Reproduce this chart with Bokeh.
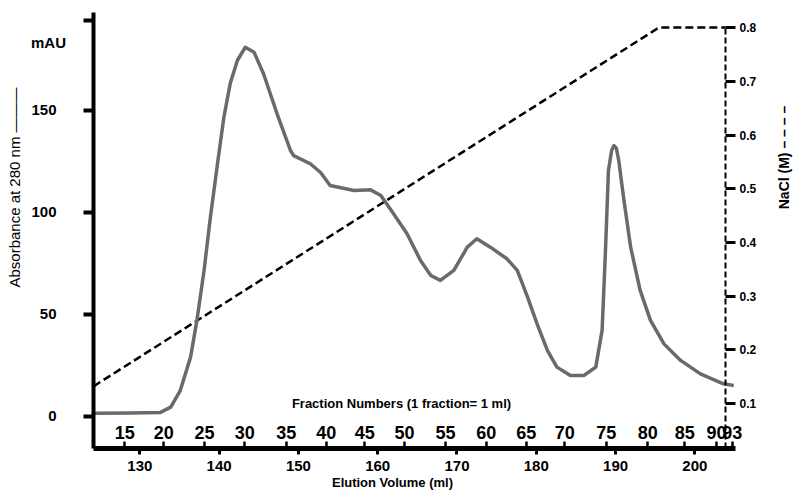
import math
from bokeh.plotting import figure
from bokeh.models import Range1d, LinearAxis, FixedTicker, Label
from bokeh.embed import file_html
from bokeh.resources import INLINE

# ---- data ----
elution_ml = [124.2, 128.8, 132.6, 133.9, 135.1, 136.4, 137.2, 138.1, 138.9, 139.8,
              140.6, 141.4, 142.3, 143.3, 144.4, 145.6, 147.3, 149.0, 149.4, 151.5,
              152.8, 154.0, 157.0, 159.1, 160.4, 162.0, 163.7, 165.4, 166.7, 167.9,
              169.6, 171.3, 172.5, 174.2, 176.3, 177.6, 178.9, 180.1, 181.4, 182.6,
              184.3, 186.0, 187.5, 188.3, 188.7, 189.1, 189.5, 189.8, 190.1, 190.4,
              191.0, 191.9, 193.1, 194.4, 196.1, 198.2, 200.7, 203.6, 204.9]
absorbance_mau = [1.6, 1.7, 2.0, 4.6, 12.7, 29.1, 47.1, 71.6, 97.7, 124.0,
                  146.7, 163.2, 174.5, 181.0, 178.6, 168.0, 148.5, 130.4, 127.9, 123.9,
                  119.6, 113.2, 110.8, 111.1, 108.3, 99.4, 89.6, 76.5, 69.1, 66.7,
                  71.6, 83.0, 87.1, 83.0, 77.3, 71.6, 58.5, 45.4, 32.4, 24.2,
                  20.1, 20.1, 24.2, 42.2, 78.9, 120.6, 130.4, 132.8, 131.4, 125.5,
                  107.5, 83.0, 61.8, 47.1, 35.6, 27.5, 20.9, 16.0, 15.2]

nacl_ml = [124.16, 195.45, 203.86]
nacl_m = [0.132, 0.8, 0.8]

volume_ticks = [130, 140, 150, 160, 170, 180, 190, 200]
absorbance_ticks = [0, 50, 100, 150, 194]
absorbance_tick_labels = ["0", "50", "100", "150", ""]
nacl_ticks = [0.1, 0.2, 0.3, 0.4, 0.5, 0.6, 0.7, 0.8]
fraction_labels = ["15", "20", "25", "30", "35", "40", "45", "50", "55", "60",
                   "65", "70", "75", "80", "85", "90", "93"]
fraction_ml = [128.11, 133.03, 138.16, 143.24, 148.46, 153.51, 158.37, 163.38,
               168.55, 173.68, 178.73, 183.59, 188.81, 194.06, 198.73, 202.72, 204.70]

FONT = "Liberation Sans"
# axis extents (data units)
VOL_MIN, VOL_MAX = 124.16, 205.11
ABS_MIN, ABS_MAX = -15.7, 198.0
NACL_MIN, NACL_MAX = 0.0162, 0.8
RIGHT_AXIS_AT = 203.86

W, H = 800, 498
p = figure(width=W, height=H, output_backend="svg", toolbar_location=None,
           x_range=Range1d(112.43, 213.32), y_range=Range1d(-40.2, 203.92),
           x_axis_location=None, y_axis_location=None,
           min_border_left=0, min_border_right=0, min_border_top=0, min_border_bottom=0)
p.xgrid.visible = False
p.ygrid.visible = False
p.outline_line_color = None
p.background_fill_color = "white"
p.border_fill_color = "white"

p.extra_y_ranges = {"nacl": Range1d(-0.0769, 0.8505)}

common = dict(minor_tick_in=0, minor_tick_out=0,
              major_label_text_font=FONT, major_label_text_font_style="bold",
              major_label_text_color="black")

# elution volume axis (bottom)
xa = LinearAxis(ticker=FixedTicker(ticks=volume_ticks), fixed_location=ABS_MIN,
                bounds=(VOL_MIN, VOL_MAX), axis_line_width=5,
                major_tick_out=6, major_tick_in=0, major_tick_line_width=3,
                major_label_standoff=6, major_label_text_font_size="15px", **common)
p.add_layout(xa, "below")

# fraction numbers on the same line, labels above it
fa = LinearAxis(ticker=FixedTicker(ticks=fraction_ml),
                major_label_overrides=dict(zip(fraction_ml, fraction_labels)),
                fixed_location=ABS_MIN, axis_line_color=None,
                major_tick_in=7, major_tick_out=0, major_tick_line_width=2.5,
                major_label_standoff=-23, major_label_text_font_size="18px", **common)
p.add_layout(fa, "below")

# absorbance axis (left)
ya = LinearAxis(ticker=FixedTicker(ticks=absorbance_ticks),
                major_label_overrides=dict(zip(absorbance_ticks, absorbance_tick_labels)),
                fixed_location=VOL_MIN, bounds=(ABS_MIN, ABS_MAX), axis_line_width=4,
                major_tick_out=10, major_tick_in=0, major_tick_line_width=4,
                major_label_standoff=27, major_label_text_font_size="15px", **common)
p.add_layout(ya, "left")

# NaCl axis (right, dashed)
ra = LinearAxis(y_range_name="nacl", ticker=FixedTicker(ticks=nacl_ticks),
                fixed_location=RIGHT_AXIS_AT, bounds=(NACL_MIN, NACL_MAX),
                axis_line_dash="6 3", axis_line_width=2,
                major_tick_out=10, major_tick_in=0, major_tick_line_width=3,
                major_label_standoff=4, major_label_text_font_size="12px", **common)
p.add_layout(ra, "right")

# data
p.line(nacl_ml, nacl_m, y_range_name="nacl", line_color="black", line_width=2.5,
       line_dash="8 4")
p.line(elution_ml, absorbance_mau, line_color="#6a6a6a", line_width=3.5,
       line_join="round")

# titles (screen units, origin at bottom-left of the canvas)
def lab(text, x, y, size, style="bold", angle=0.0):
    p.add_layout(Label(x=x, y=y, x_units="screen", y_units="screen", text=text,
                       text_font=FONT, text_font_size=size, text_font_style=style,
                       text_color="black", text_align="center", text_baseline="middle",
                       angle=angle))

lab("mAU", 48, 456, "15px")
lab("Absorbance at 280 nm \u2014\u2014\u2014", 14, 311, "15px", style="normal", angle=math.pi / 2)
lab("Fraction Numbers (1 fraction= 1 ml)", 401, 95, "13px")
lab("Elution Volume (ml)", 392, 16, "13px")
lab("NaCl (M) \u2013 \u2013 \u2013 \u2013", 783, 341, "14px", angle=math.pi / 2)

open("out.html", "w").write(file_html(p, INLINE))
